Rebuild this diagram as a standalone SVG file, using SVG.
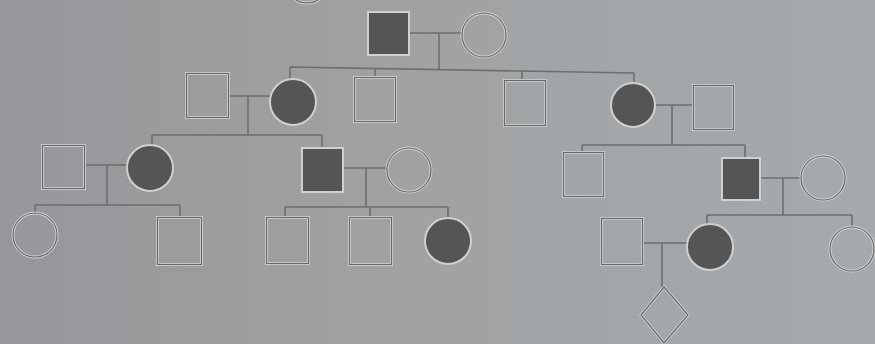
<svg xmlns="http://www.w3.org/2000/svg" width="875" height="344" viewBox="0 0 875 344">
<defs>
<linearGradient id="bg" x1="0" y1="0" x2="1" y2="0">
<stop offset="0" stop-color="#95979a"/>
<stop offset="0.3" stop-color="#9c9ea0"/>
<stop offset="0.5" stop-color="#a0a2a4"/>
<stop offset="0.66" stop-color="#a2a5a7"/>
<stop offset="1" stop-color="#a7aaac"/>
</linearGradient>
</defs>
<style>
.ln{stroke:#6c6e70;stroke-width:1.6;fill:none}
.open{fill:none;stroke:#cfd1d2;stroke-width:3}
.openin{fill:none;stroke:#67696b;stroke-width:1.2}
.aff{fill:#545557;stroke:#cfd0d1;stroke-width:2}
</style>
<rect width="875" height="344" fill="url(#bg)"/>
<g id="connectors">
<path class="ln" d="M409 33 H462 M439 33 V70 M290 67 L634 73 M290 67 V79 M375 68 V77 M522 71 V80 M634 73 V83"/>
<path class="ln" d="M228 96 H270 M248 96 V135 M152 135 H322 M152 135 V145 M322 135 V148"/>
<path class="ln" d="M655 105 H693 M672 105 V145 M582 145 H745 M582 145 V152 M745 145 V158"/>
<path class="ln" d="M84 165 H127 M107 165 V205 M35 205 H180 M35 205 V213 M180 205 V217"/>
<path class="ln" d="M343 168 H387 M366 168 V207 M285 207 H448 M285 207 V217 M370 207 V217 M448 207 V218"/>
<path class="ln" d="M760 178 H801 M783 178 V215 M707 215 H852 M707 215 V224 M852 215 V227"/>
<path class="ln" d="M642 243 H687 M662 243 V287"/>
</g>
<g id="n0"><circle class="open" cx="307" cy="-18" r="21"/><circle class="openin" cx="307" cy="-18" r="21"/></g>
<g id="n1"><rect class="aff" x="368" y="12" width="41" height="43"/></g>
<g id="n2"><circle class="open" cx="484" cy="35" r="22"/><circle class="openin" cx="484" cy="35" r="22"/></g>
<g id="n3"><rect class="open" x="186.5" y="73.5" width="42" height="44"/><rect class="openin" x="186.5" y="73.5" width="42" height="44"/></g>
<g id="n4"><circle class="aff" cx="293" cy="102" r="23"/></g>
<g id="n5"><rect class="open" x="354.5" y="77.5" width="41" height="44"/><rect class="openin" x="354.5" y="77.5" width="41" height="44"/></g>
<g id="n6"><rect class="open" x="504.5" y="80.5" width="41" height="45"/><rect class="openin" x="504.5" y="80.5" width="41" height="45"/></g>
<g id="n7"><circle class="aff" cx="633" cy="105" r="22"/></g>
<g id="n8"><rect class="open" x="693.5" y="85.5" width="40" height="44"/><rect class="openin" x="693.5" y="85.5" width="40" height="44"/></g>
<g id="n9"><rect class="open" x="42.5" y="145.5" width="42" height="43"/><rect class="openin" x="42.5" y="145.5" width="42" height="43"/></g>
<g id="n10"><circle class="aff" cx="150" cy="168" r="23"/></g>
<g id="n11"><rect class="aff" x="302" y="148" width="41" height="44"/></g>
<g id="n12"><circle class="open" cx="409" cy="170" r="22"/><circle class="openin" cx="409" cy="170" r="22"/></g>
<g id="n13"><rect class="open" x="563.5" y="152.5" width="40" height="44"/><rect class="openin" x="563.5" y="152.5" width="40" height="44"/></g>
<g id="n14"><rect class="aff" x="722" y="158" width="38" height="42"/></g>
<g id="n15"><circle class="open" cx="823" cy="178" r="22"/><circle class="openin" cx="823" cy="178" r="22"/></g>
<g id="n16"><circle class="open" cx="35" cy="235" r="22"/><circle class="openin" cx="35" cy="235" r="22"/></g>
<g id="n17"><rect class="open" x="157.5" y="217.5" width="44" height="47"/><rect class="openin" x="157.5" y="217.5" width="44" height="47"/></g>
<g id="n18"><rect class="open" x="266.5" y="217.5" width="42" height="46"/><rect class="openin" x="266.5" y="217.5" width="42" height="46"/></g>
<g id="n19"><rect class="open" x="349.5" y="217.5" width="42" height="47"/><rect class="openin" x="349.5" y="217.5" width="42" height="47"/></g>
<g id="n20"><circle class="aff" cx="448" cy="241" r="23"/></g>
<g id="n21"><rect class="open" x="601.5" y="218.5" width="41" height="46"/><rect class="openin" x="601.5" y="218.5" width="41" height="46"/></g>
<g id="n22"><circle class="aff" cx="710" cy="247" r="23"/></g>
<g id="n23"><circle class="open" cx="852" cy="249" r="22"/><circle class="openin" cx="852" cy="249" r="22"/></g>
<g id="n24"><polygon class="open" points="664,287 688,315 664,343 641,315"/><polygon class="openin" points="664,287 688,315 664,343 641,315"/></g>
</svg>
